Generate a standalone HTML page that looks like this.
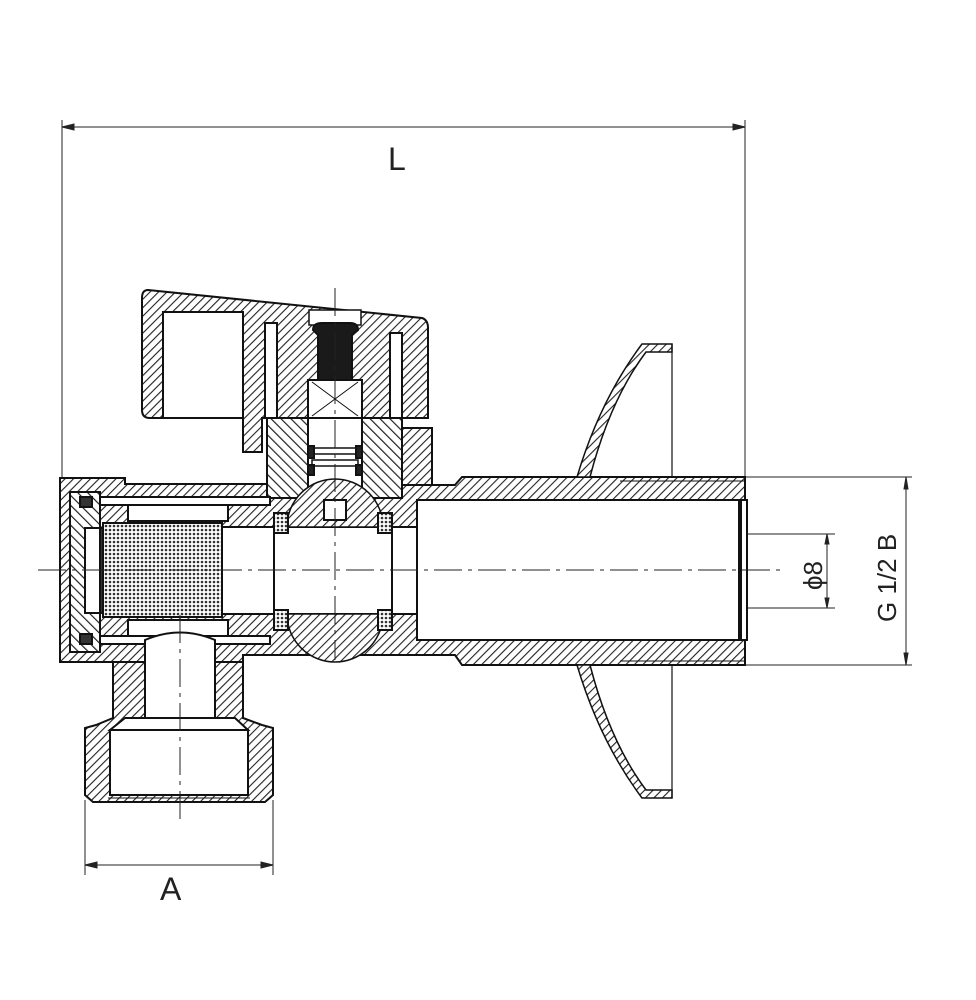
<!DOCTYPE html>
<html><head><meta charset="utf-8"><style>
html,body{margin:0;padding:0;background:#fff}
svg{display:block}
text{font-family:"Liberation Sans",sans-serif;fill:#222}
</style></head><body>
<svg width="976" height="1000" viewBox="0 0 976 1000" xmlns="http://www.w3.org/2000/svg">
<defs>
<pattern id="h" width="6" height="6" patternUnits="userSpaceOnUse" patternTransform="rotate(45)">
<rect width="6" height="6" fill="#fff"/><line x1="0" y1="0" x2="0" y2="6" stroke="#222" stroke-width="2.2"/></pattern>
<pattern id="h2" width="7" height="7" patternUnits="userSpaceOnUse" patternTransform="rotate(-45)">
<rect width="7" height="7" fill="#fff"/><line x1="0" y1="0" x2="0" y2="7" stroke="#222" stroke-width="2.4"/></pattern>
<pattern id="m" width="4" height="4" patternUnits="userSpaceOnUse">
<rect width="4" height="4" fill="#fff"/><circle cx="2" cy="2" r="1.3" fill="#333"/></pattern>
</defs>
<g stroke="#222" stroke-width="1" fill="none">
<!-- L dimension -->
<line x1="62" y1="120" x2="62" y2="478"/>
<line x1="745" y1="120" x2="745" y2="478"/>
<line x1="62" y1="127" x2="745" y2="127"/>
<path d="M62 127 l12 -3 v6z M745 127 l-12 -3 v6z" fill="#222"/>
<!-- G 1/2 B -->
<line x1="745" y1="477" x2="912" y2="477"/>
<line x1="745" y1="665" x2="912" y2="665"/>
<line x1="906" y1="477" x2="906" y2="665"/>
<path d="M906 477 l-2 12 h4z M906 665 l-2 -12 h4z" fill="#222"/>
<!-- phi8 -->
<line x1="417" y1="534" x2="835" y2="534"/>
<line x1="417" y1="608" x2="835" y2="608"/>
<line x1="827" y1="534" x2="827" y2="608"/>
<path d="M827 534 l-2 10 h4z M827 608 l-2 -10 h4z" fill="#222"/>
<!-- A -->
<line x1="85" y1="800" x2="85" y2="875"/>
<line x1="273" y1="800" x2="273" y2="875"/>
<line x1="85" y1="865" x2="273" y2="865"/>
<path d="M85 865 l12 -3 v6z M273 865 l-12 -3 v6z" fill="#222"/>
</g>
<g stroke="#111" stroke-width="2">
<!-- handle -->
<path d="M148 290 L422 318 Q428 320 428 328 L428 418 L402 418 L402 428 L432 428 L432 485 L402 485 L402 418 L262 418 L262 452 L243 452 L243 418 L150 418 Q142 418 142 410 L142 298 Q142 290 148 290Z" fill="url(#h)"/>
<rect x="163" y="312" width="80" height="106" fill="#fff"/>
<rect x="265" y="323" width="12" height="95" fill="#fff"/>
<rect x="390" y="333" width="12" height="85" fill="#fff"/>
<rect x="309" y="310" width="52" height="15" fill="#fff" stroke-width="1.5"/>
<path d="M313 330 Q313 323 322 323 L350 323 Q358 323 358 330 L352 335 L352 380 L318 380 L318 335Z" fill="#1a1a1a"/>
<rect x="308" y="380" width="54" height="38" fill="#fff"/>
<path d="M312 382 L358 416 M358 382 L312 416" stroke-width="1"/>
<!-- bonnet -->
<rect x="267" y="418" width="135" height="80" fill="url(#h2)"/>
<rect x="308" y="418" width="54" height="80" fill="#fff"/>
<rect x="312" y="448" width="46" height="6" fill="#fff" stroke-width="1.5"/>
<rect x="312" y="460" width="46" height="6" fill="#fff" stroke-width="1.5"/>
<path d="M308 446h6v12h-6zM356 446h6v12h-6zM308 465h6v10h-6zM356 465h6v10h-6z" fill="#222"/>
<!-- main body -->
<path d="M60 478 L125 478 L125 484 L267 484 L267 498 L402 498 L402 485 L455 485 L462 477 L745 477 L745 665 L462 665 L455 655 L243 655 L243 662 L60 662Z" fill="url(#h)"/>
<rect x="417" y="500" width="330" height="140" fill="#fff"/>
<line x1="740" y1="500" x2="740" y2="640" stroke-width="4"/>
<line x1="620" y1="481" x2="745" y2="481" stroke-width="1"/>
<line x1="620" y1="661" x2="745" y2="661" stroke-width="1"/>
<!-- cap inner -->
<rect x="70" y="492" width="30" height="160" fill="url(#h2)"/>
<rect x="85" y="528" width="18" height="85" fill="#fff"/>
<rect x="100" y="528" width="4" height="85" fill="#333"/>
<rect x="80" y="497" width="12" height="10" fill="#333"/>
<rect x="80" y="634" width="12" height="10" fill="#333"/>
<rect x="100" y="497" width="170" height="8" fill="#fff"/>
<rect x="100" y="636" width="170" height="8" fill="#fff"/>
<rect x="128" y="505" width="100" height="16" fill="#fff"/>
<rect x="128" y="620" width="100" height="16" fill="#fff"/>
<rect x="103" y="523" width="119" height="94" fill="url(#m)"/>
<!-- ball seat -->
<rect x="222" y="527" width="195" height="87" fill="#fff"/>
<path d="M287 527 A48 48 0 0 1 383 527Z M287 614 A48 48 0 0 0 383 614Z" fill="url(#h)" stroke-width="1.5"/>
<rect x="324" y="500" width="22" height="20" fill="#fff"/>
<rect x="274" y="513" width="14" height="20" fill="url(#m)"/>
<rect x="378" y="513" width="14" height="20" fill="url(#m)"/>
<rect x="274" y="610" width="14" height="20" fill="url(#m)"/>
<rect x="378" y="610" width="14" height="20" fill="url(#m)"/>
<line x1="274" y1="513" x2="274" y2="630"/>
<line x1="392" y1="513" x2="392" y2="630"/>
<!-- bottom fitting -->
<path d="M113 662 L243 662 L243 718 L262 725 L273 728 L273 795 L265 802 L93 802 L85 795 L85 728 L96 725 L113 718Z" fill="url(#h)"/>
<path d="M145 640 Q180 625 215 640 L215 718 L145 718Z" fill="#fff"/>
<rect x="110" y="730" width="138" height="65" fill="#fff"/>
<path d="M125 718 L235 718 L248 730 L110 730Z" fill="#fff"/>
<line x1="108" y1="798" x2="250" y2="798" stroke-width="1"/>
<!-- escutcheon -->
<path d="M577 477 Q600 400 642 344 L672 344 L672 352 L646 352 Q610 400 590 477Z" fill="url(#h)" stroke-width="1.5"/>
<path d="M577 665 Q600 742 642 798 L672 798 L672 790 L646 790 Q610 742 590 665Z" fill="url(#h)" stroke-width="1.5"/>
<line x1="672" y1="344" x2="672" y2="477" stroke-width="1.2"/>
<line x1="672" y1="665" x2="672" y2="798" stroke-width="1.2"/>
</g>
<g stroke="#222" stroke-width="1" stroke-dasharray="28 6 4 6" fill="none">
<line x1="38" y1="570" x2="780" y2="570"/>
<line x1="335" y1="288" x2="335" y2="660"/>
<line x1="180" y1="615" x2="180" y2="820"/>
</g>
<text x="388" y="170" font-size="32">L</text>
<text x="160" y="900" font-size="32">A</text>
<text transform="translate(822 590) rotate(-90)" font-size="26">ϕ8</text>
<text transform="translate(896 622) rotate(-90)" font-size="26">G 1/2 B</text>
</svg>
</body></html>
